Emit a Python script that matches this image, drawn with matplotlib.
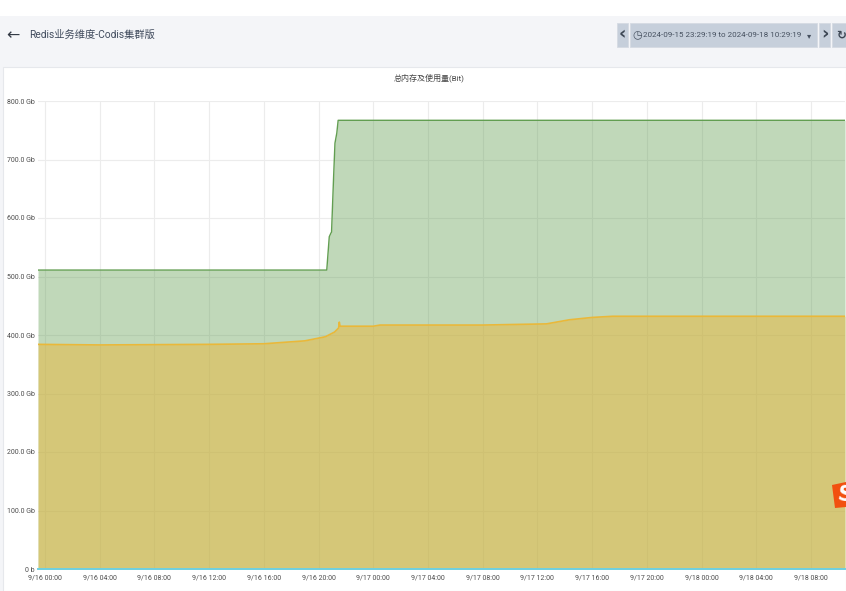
import matplotlib
matplotlib.use("Agg")
import matplotlib.dates as mdates
import matplotlib.pyplot as plt
import numpy as np
import pandas as pd
from matplotlib.patches import Polygon, Rectangle

FONT = ["Roboto", "Noto Sans CJK SC", "DejaVu Sans"]
plt.rcParams["font.family"] = FONT

page_title = "Redis业务维度-Codis集群版"
panel_title = "总内存及使用量(Bit)"
time_range = "2024-09-15 23:29:19 to 2024-09-18 10:29:19"
y_ticks = [0, 100, 200, 300, 400, 500, 600, 700, 800]
y_labels = ["0 b", "100.0 Gb", "200.0 Gb", "300.0 Gb", "400.0 Gb",
            "500.0 Gb", "600.0 Gb", "700.0 Gb", "800.0 Gb"]

total_times = ["2024-09-15 23:29:19", "2024-09-16 20:36", "2024-09-16 20:47", "2024-09-16 20:54",
               "2024-09-16 20:57", "2024-09-16 21:06", "2024-09-16 21:12", "2024-09-16 21:20",
               "2024-09-16 21:26", "2024-09-18 10:29:19"]
total_gb = [511, 511, 568, 574, 576, 670, 728, 745, 767, 767]

used_times = ["2024-09-15 23:29:19", "2024-09-16 04:00", "2024-09-16 12:00", "2024-09-16 16:00",
              "2024-09-16 19:00", "2024-09-16 20:30", "2024-09-16 21:10", "2024-09-16 21:28",
              "2024-09-16 21:31", "2024-09-16 21:34", "2024-09-17 00:00", "2024-09-17 00:30",
              "2024-09-17 04:00", "2024-09-17 08:00", "2024-09-17 12:40", "2024-09-17 14:20",
              "2024-09-17 16:00", "2024-09-17 17:30", "2024-09-17 22:00", "2024-09-18 10:29:19"]
used_gb = [384, 383, 384, 385, 390, 397, 405, 412, 422, 415, 415, 417,
           417, 417, 419, 426, 430, 432, 432, 432]

zero_gb = [0, 0]


def px_rect(fig, x, y, w, h, color, **kw):
    # pixel coords with the origin at top left, like the screenshot
    fig.add_artist(Rectangle((x / 846, 1 - (y + h) / 591), w / 846, h / 591,
                             transform=fig.transFigure, facecolor=color, **kw))


def px_text(fig, x, y, s, **kw):
    fig.text(x / 846, 1 - y / 591, s, va="center", **kw)


fig = plt.figure(figsize=(8.46, 5.91), dpi=100, facecolor="white")

# page chrome
px_rect(fig, 0, 16, 846, 575, "#f4f5f8", edgecolor="none", zorder=-5)
px_rect(fig, 3, 67, 843, 524, "white", edgecolor="#e6e8ec", linewidth=0.8, zorder=-4)

for x, w in [(617, 11), (630, 187), (819, 11), (832, 14)]:
    px_rect(fig, x, 23, w, 24, "#c6cfdb", edgecolor="#d5dbe3", linewidth=0.6)

px_text(fig, 29, 35, page_title, fontsize=7.4, color="#3f4a5c")
px_text(fig, 429, 78, panel_title, fontsize=5.8, color="#444444", ha="center")
px_text(fig, 643, 35, time_range, fontsize=5.8, color="#46505f")
px_text(fig, 637.5, 35.5, "◷", fontsize=8, color="#46505f", ha="center",
        family=["DejaVu Sans"])
px_text(fig, 809, 35.5, "▾", fontsize=6, color="#46505f", ha="center", family=["DejaVu Sans"])
px_text(fig, 622.5, 34.5, "‹", fontsize=13, color="#3c4653", ha="center", weight="bold",
        family=["DejaVu Sans"])
px_text(fig, 824.5, 34.5, "›", fontsize=13, color="#3c4653", ha="center", weight="bold",
        family=["DejaVu Sans"])
px_text(fig, 841, 35, "↻", fontsize=8.5, color="#3c4653", ha="center", weight="bold",
        family=["DejaVu Sans"])
px_text(fig, 12.5, 36, "←", fontsize=11.5, color="#333a45", ha="center",
        family=["DejaVu Sans"])

# chart
ax = fig.add_axes([38 / 846, 1 - 569 / 591, 807 / 846, 468 / 591])
ax.set_facecolor("none")

total_t = pd.to_datetime(total_times, format="mixed")
used_t = pd.to_datetime(used_times, format="mixed")
ax.fill_between(total_t, total_gb, color="#629E51", alpha=0.4, linewidth=0, zorder=2)
ax.plot(total_t, total_gb, color="#629E51", linewidth=1.0, zorder=3)
ax.fill_between(used_t, used_gb, color="#EAB839", alpha=0.5, linewidth=0, zorder=4)
ax.plot(used_t, used_gb, color="#EAB839", linewidth=1.2, zorder=5)
ax.plot(total_t[[0, -1]], zero_gb, color="#6ED0E0", linewidth=1.4, zorder=6, clip_on=False)

ax.set_xlim(total_t[0], total_t[-1])
ax.set_ylim(0, 800)
ax.set_yticks(y_ticks, y_labels)
ax.set_xticks(pd.date_range("2024-09-16 00:00", "2024-09-18 08:00", freq="4h"))
ax.xaxis.set_major_formatter(mdates.DateFormatter("%-m/%d %H:%M"))
ax.tick_params(length=0, labelsize=5.0, labelcolor="#4d4d4d")
ax.tick_params(axis="x", pad=4.2)
ax.tick_params(axis="y", pad=2.2)
ax.grid(True, color="#ececec", linewidth=0.8, zorder=0)
ax.set_axisbelow(True)
for s in ax.spines.values():
    s.set_visible(False)

# sogou badge at the right edge
badge = Polygon(np.array([[832, 485], [846, 482], [846, 507], [835, 508]]) / [846, 591] * [1, -1] + [0, 1],
                closed=True, transform=fig.transFigure, facecolor="#f2500f", edgecolor="none", zorder=10)
fig.add_artist(badge)
fig.text(836 / 846, 1 - 495.5 / 591, "S", fontsize=15, color="white", weight="bold",
         family=["DejaVu Sans"], ha="left", va="center", rotation=-8, zorder=11)

fig.savefig("out.png", dpi=100)
